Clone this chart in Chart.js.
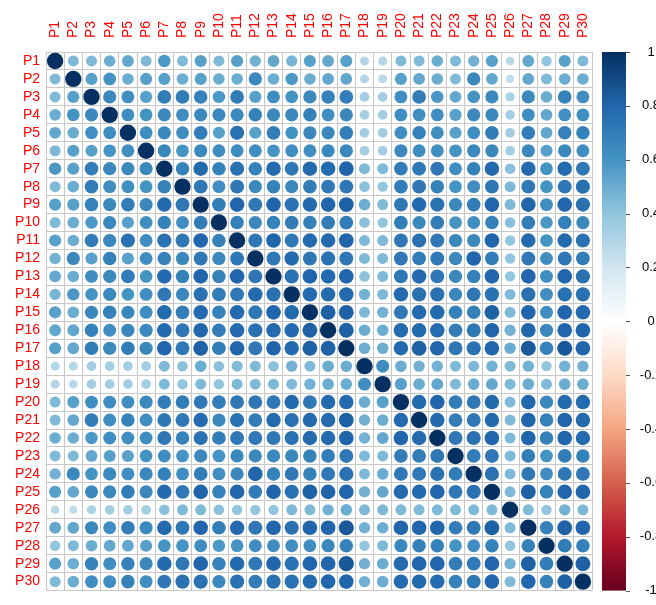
<!DOCTYPE html>
<html>
<head>
<meta charset="utf-8">
<script src="https://cdn.jsdelivr.net/npm/chart.js@4.4.1/dist/chart.umd.min.js"></script>
<style>
  html, body { margin: 0; padding: 0; background: #ffffff; }
  #wrap { width: 656px; height: 605px; }
</style>
</head>
<body>
<div id="wrap"><canvas id="c" width="656" height="605"></canvas></div>
<script>
// Variable names, shared by both axes
const labels = ["P1","P2","P3","P4","P5","P6","P7","P8","P9","P10",
                "P11","P12","P13","P14","P15","P16","P17","P18","P19","P20",
                "P21","P22","P23","P24","P25","P26","P27","P28","P29","P30"];

// Correlation matrix, one row per variable
const corrRows = [
  [1,.45,.45,.50,.52,.45,.58,.45,.55,.45, .55,.48,.52,.47,.55,.52,.55,.30,.30,.45, .45,.50,.45,.48,.55,.28,.52,.40,.55,.45],
  [.45,1,.55,.60,.50,.55,.55,.50,.55,.50, .50,.65,.50,.58,.50,.52,.52,.30,.28,.55, .52,.50,.45,.65,.52,.25,.52,.45,.50,.50],
  [.45,.55,1,.65,.62,.55,.70,.70,.68,.58, .70,.55,.62,.60,.65,.68,.70,.35,.35,.62, .70,.58,.52,.60,.65,.32,.65,.50,.68,.62],
  [.50,.60,.65,1,.62,.60,.65,.62,.65,.65, .65,.68,.65,.65,.68,.62,.65,.35,.35,.62, .62,.62,.55,.65,.65,.35,.62,.52,.62,.62],
  [.52,.50,.62,.62,1,.62,.65,.62,.70,.55, .75,.55,.70,.60,.65,.65,.70,.35,.35,.62, .68,.62,.55,.62,.70,.35,.70,.52,.68,.68],
  [.45,.55,.55,.60,.62,1,.65,.60,.65,.62, .62,.62,.60,.62,.62,.65,.65,.35,.35,.65, .62,.62,.60,.65,.65,.35,.65,.55,.65,.62],
  [.58,.55,.70,.65,.65,.65,1,.68,.78,.68, .75,.68,.78,.72,.78,.78,.80,.45,.45,.70, .72,.72,.62,.68,.78,.42,.78,.60,.78,.72],
  [.45,.50,.70,.62,.62,.60,.68,1,.72,.62, .72,.65,.68,.65,.70,.72,.72,.42,.40,.70, .72,.68,.60,.62,.72,.45,.72,.60,.72,.75],
  [.55,.55,.68,.65,.70,.65,.78,.72,1,.70, .80,.72,.80,.75,.78,.80,.82,.50,.45,.72, .78,.75,.65,.70,.80,.45,.80,.62,.80,.75],
  [.45,.50,.58,.65,.55,.62,.68,.62,.70,1, .68,.65,.68,.70,.68,.70,.70,.42,.40,.70, .65,.70,.60,.62,.68,.42,.70,.58,.68,.65],
  [.55,.50,.70,.65,.75,.62,.75,.72,.80,.68, 1,.72,.80,.72,.78,.78,.80,.45,.45,.72, .75,.72,.65,.65,.80,.40,.78,.60,.78,.75],
  [.48,.65,.55,.68,.55,.62,.68,.65,.72,.65, .72,1,.72,.78,.72,.75,.72,.45,.45,.72, .70,.72,.65,.80,.70,.40,.72,.62,.72,.70],
  [.52,.50,.62,.65,.70,.60,.78,.68,.80,.68, .80,.72,1,.75,.80,.78,.80,.42,.45,.72, .78,.72,.65,.68,.80,.40,.80,.62,.80,.75],
  [.47,.58,.60,.65,.60,.62,.72,.65,.75,.70, .72,.78,.75,1,.78,.78,.78,.48,.45,.78, .75,.75,.65,.72,.75,.45,.75,.62,.75,.75],
  [.55,.50,.65,.68,.65,.62,.78,.70,.78,.68, .78,.72,.80,.78,1,.82,.82,.45,.48,.72, .78,.78,.68,.68,.82,.45,.80,.62,.80,.78],
  [.52,.52,.68,.62,.65,.65,.78,.72,.80,.70, .78,.75,.78,.78,.82,1,.82,.50,.50,.78, .78,.78,.70,.72,.80,.48,.80,.65,.80,.80],
  [.55,.52,.70,.65,.70,.65,.80,.72,.82,.70, .80,.72,.80,.78,.82,.82,1,.50,.50,.78, .82,.80,.72,.75,.80,.50,.85,.68,.85,.80],
  [.30,.30,.35,.35,.35,.35,.45,.42,.50,.42, .45,.45,.42,.48,.45,.50,.50,1,.62,.50, .48,.48,.45,.45,.48,.45,.48,.40,.48,.48],
  [.30,.28,.35,.35,.35,.35,.45,.40,.45,.40, .45,.45,.45,.45,.48,.50,.50,.62,1,.55, .50,.52,.45,.50,.52,.45,.50,.45,.50,.50],
  [.45,.55,.62,.62,.62,.65,.70,.70,.72,.70, .72,.72,.72,.78,.72,.78,.78,.50,.55,1, .78,.80,.70,.72,.78,.45,.80,.65,.78,.78],
  [.45,.52,.70,.62,.68,.62,.72,.72,.78,.65, .75,.70,.78,.75,.78,.78,.82,.48,.50,.78, 1,.78,.70,.72,.78,.45,.80,.68,.80,.78],
  [.50,.50,.58,.62,.62,.62,.72,.68,.75,.70, .72,.72,.72,.75,.78,.78,.80,.48,.52,.80, .78,1,.72,.75,.80,.45,.80,.68,.80,.78],
  [.45,.45,.52,.55,.55,.60,.62,.60,.65,.60, .65,.65,.65,.65,.68,.70,.72,.45,.45,.70, .70,.72,1,.70,.72,.45,.70,.60,.70,.68],
  [.48,.65,.60,.65,.62,.65,.68,.62,.70,.62, .65,.80,.68,.72,.68,.72,.75,.45,.50,.72, .72,.75,.70,1,.75,.45,.72,.62,.72,.72],
  [.55,.52,.65,.65,.70,.65,.78,.72,.80,.68, .80,.70,.80,.75,.82,.80,.80,.48,.52,.78, .78,.80,.72,.75,1,.45,.82,.68,.80,.80],
  [.28,.25,.32,.35,.35,.35,.42,.45,.45,.42, .40,.40,.40,.45,.45,.48,.50,.45,.45,.45, .45,.45,.45,.45,.45,1,.45,.40,.48,.45],
  [.52,.52,.65,.62,.70,.65,.78,.72,.80,.70, .78,.72,.80,.75,.80,.80,.85,.48,.50,.80, .80,.80,.70,.72,.82,.45,1,.68,.82,.80],
  [.40,.45,.50,.52,.52,.55,.60,.60,.62,.58, .60,.62,.62,.62,.62,.65,.68,.40,.45,.65, .68,.68,.60,.62,.68,.40,.68,1,.70,.68],
  [.55,.50,.68,.62,.68,.65,.78,.72,.80,.68, .78,.72,.80,.75,.80,.80,.85,.48,.50,.78, .80,.80,.70,.72,.80,.48,.82,.70,1,.82],
  [.45,.50,.62,.62,.68,.62,.72,.75,.75,.65, .75,.70,.75,.75,.78,.80,.80,.48,.50,.78, .78,.78,.68,.72,.80,.45,.80,.68,.82,1]
];

// Colour bar tick values, top to bottom
const colorbarTicks = [1, 0.8, 0.6, 0.4, 0.2, 0, -0.2, -0.4, -0.6, -0.8, -1];

// Diverging red-white-blue palette, from -1 to 1
const paletteRdBu = ["#67001F","#B2182B","#D6604D","#F4A582","#FDDBC7","#FFFFFF",
                     "#D1E5F0","#92C5DE","#4393C3","#2166AC","#053061"];

const FONT = "'Liberation Sans', Arial, Helvetica, sans-serif";
const GRID = "#c8c8c8";
const LABEL_SIZE = 14;

function hexToRgb(h) {
  const n = parseInt(h.slice(1), 16);
  return [(n >> 16) & 255, (n >> 8) & 255, n & 255];
}
const paletteRgb = paletteRdBu.map(hexToRgb);

// Map a correlation in [-1, 1] to a colour on the palette
function corrColor(v) {
  const t = (Math.max(-1, Math.min(1, v)) + 1) / 2 * (paletteRgb.length - 1);
  const i = Math.min(paletteRgb.length - 2, Math.floor(t));
  const f = t - i;
  const a = paletteRgb[i], b = paletteRgb[i + 1];
  const c = a.map((x, k) => Math.round(x + (b[k] - x) * f));
  return `rgb(${c[0]},${c[1]},${c[2]})`;
}

// One point per matrix cell
const cells = [];
corrRows.forEach((row, i) => {
  row.forEach((v, j) => {
    cells.push({ x: labels[j], y: labels[i], v: v });
  });
});

// Colour legend drawn to the right of the plot area
const colorbarPlugin = {
  id: 'colorbar',
  afterDraw(chart) {
    const ctx = chart.ctx;
    const area = chart.chartArea;
    const x0 = 602, x1 = 626;
    const top = area.top, bottom = area.bottom;
    const grad = ctx.createLinearGradient(0, top, 0, bottom);
    paletteRdBu.forEach((c, k) => {
      grad.addColorStop(1 - k / (paletteRdBu.length - 1), c);
    });
    ctx.save();
    ctx.fillStyle = grad;
    ctx.fillRect(x0, top, x1 - x0, bottom - top);
    ctx.strokeStyle = "#555";
    ctx.lineWidth = 1;
    ctx.fillStyle = "#000";
    ctx.font = "13px " + FONT;
    ctx.textAlign = "center";
    ctx.textBaseline = "middle";
    colorbarTicks.forEach(t => {
      const y = top + (1 - t) / 2 * (bottom - top);
      ctx.beginPath();
      ctx.moveTo(x1, Math.round(y) + 0.5);
      ctx.lineTo(x1 + 4, Math.round(y) + 0.5);
      ctx.stroke();
      ctx.fillText(String(t), 651, y);
    });
    ctx.restore();
  }
};

new Chart(document.getElementById('c'), {
  type: 'scatter',
  data: {
    datasets: [{
      data: cells,
      pointStyle: 'circle',
      pointBorderWidth: 0,
      pointRadius: (ctx) => {
        const a = ctx.chart.chartArea;
        const cell = a ? (a.right - a.left) / labels.length : 18.2;
        const v = ctx.raw ? ctx.raw.v : 0;
        return 0.45 * cell * Math.sqrt(Math.abs(v));
      },
      pointBackgroundColor: (ctx) => corrColor(ctx.raw ? ctx.raw.v : 0),
      pointBorderColor: (ctx) => corrColor(ctx.raw ? ctx.raw.v : 0)
    }]
  },
  options: {
    responsive: false,
    animation: false,
    events: [],
    layout: { padding: { left: 0, top: 0, right: 64, bottom: 7 } },
    plugins: { legend: { display: false }, tooltip: { enabled: false } },
    scales: {
      x: {
        type: 'category',
        labels: labels,
        position: 'top',
        offset: true,
        grid: { offset: true, color: GRID, lineWidth: 1, drawTicks: false },
        border: { color: GRID },
        ticks: {
          color: '#ff0000',
          font: { family: FONT, size: LABEL_SIZE },
          minRotation: 90, maxRotation: 90,
          autoSkip: false,
          // rotated labels on a top axis sit one line-height to the left; centre them on the column
          labelOffset: LABEL_SIZE * 1.2,
          padding: 14
        },
        afterFit(s) { s.height = 52; }
      },
      y: {
        type: 'category',
        labels: labels,
        position: 'left',
        offset: true,
        grid: { offset: true, color: GRID, lineWidth: 1, drawTicks: false },
        border: { color: GRID },
        ticks: {
          color: '#ff0000',
          font: { family: FONT, size: LABEL_SIZE },
          autoSkip: false,
          padding: 6
        },
        afterFit(s) { s.width = 46; }
      }
    }
  },
  plugins: [colorbarPlugin]
});
</script>
</body>
</html>
